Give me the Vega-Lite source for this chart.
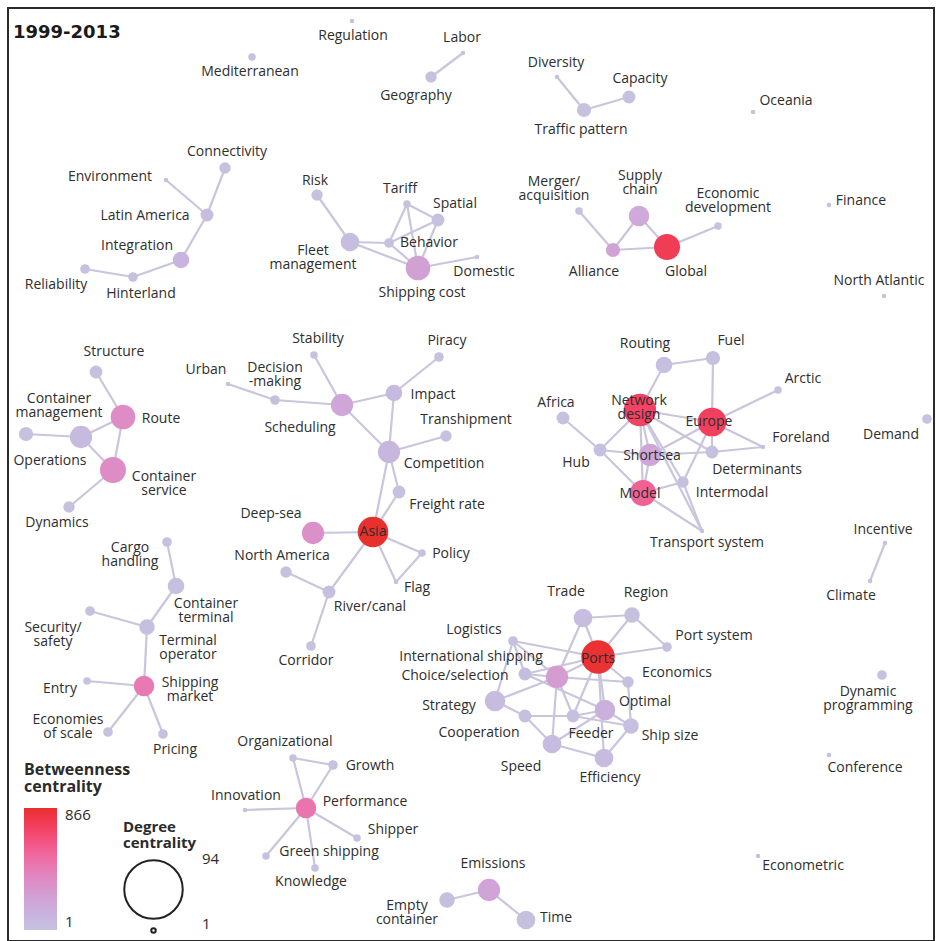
{
  "$schema": "https://vega.github.io/schema/vega-lite/v6.json",
  "width": 936,
  "height": 941,
  "autosize": {"type": "fit", "contains": "padding"},
  "padding": {"left": 8, "top": 8, "right": 2, "bottom": 0},
  "background": "white",
  "config": {
    "view": {"stroke": "#2b2b2b", "strokeWidth": 2},
    "legend": {"titleFont": "Open Sans", "labelFont": "Open Sans", "titleColor": "#2b2b2b", "labelColor": "#2b2b2b"}
  },
  "title": {"text": "1999-2013", "anchor": "start", "frame": "group", "orient": "top", "offset": -34, "dx": 5, "font": "DejaVu Sans", "fontSize": 18, "fontWeight": "bold", "color": "#1a1a1a"},
  "datasets": {
    "nodes": [
      {"id": "Mediterranean", "label": "Mediterranean", "x": 252, "y": 57, "deg": 2, "btw": 1, "lx": 250, "ly": 72},
      {"id": "Regulation", "label": "Regulation", "x": 352, "y": 21, "deg": 1, "btw": 1, "lx": 353, "ly": 36},
      {"id": "Labor", "label": "Labor", "x": 463, "y": 53, "deg": 1, "btw": 1, "lx": 462, "ly": 38},
      {"id": "Geography", "label": "Geography", "x": 431, "y": 77, "deg": 4, "btw": 5, "lx": 416, "ly": 96},
      {"id": "Diversity", "label": "Diversity", "x": 557, "y": 77, "deg": 1, "btw": 1, "lx": 556, "ly": 63},
      {"id": "Traffic pattern", "label": "Traffic pattern", "x": 584, "y": 110, "deg": 6, "btw": 5, "lx": 581, "ly": 130},
      {"id": "Capacity", "label": "Capacity", "x": 629, "y": 97, "deg": 5, "btw": 1, "lx": 640, "ly": 79},
      {"id": "Oceania", "label": "Oceania", "x": 753, "y": 112, "deg": 1, "btw": 1, "lx": 786, "ly": 101},
      {"id": "Connectivity", "label": "Connectivity", "x": 225, "y": 168, "deg": 4, "btw": 1, "lx": 227, "ly": 152},
      {"id": "Environment", "label": "Environment", "x": 166, "y": 180, "deg": 1, "btw": 1, "lx": 110, "ly": 177},
      {"id": "Latin America", "label": "Latin America", "x": 207, "y": 215, "deg": 5, "btw": 30, "lx": 145, "ly": 216},
      {"id": "Integration", "label": "Integration", "x": 181, "y": 260, "deg": 8, "btw": 100, "lx": 137, "ly": 246},
      {"id": "Hinterland", "label": "Hinterland", "x": 133, "y": 277, "deg": 3, "btw": 10, "lx": 141, "ly": 294},
      {"id": "Reliability", "label": "Reliability", "x": 85, "y": 269, "deg": 3, "btw": 1, "lx": 56, "ly": 285},
      {"id": "Risk", "label": "Risk", "x": 317, "y": 195, "deg": 4, "btw": 1, "lx": 315, "ly": 181},
      {"id": "Fleet management", "label": "Fleet\nmanagement", "x": 350, "y": 242, "deg": 10, "btw": 30, "lx": 313, "ly": 251},
      {"id": "Tariff", "label": "Tariff", "x": 407, "y": 204, "deg": 2, "btw": 1, "lx": 400, "ly": 189},
      {"id": "Spatial", "label": "Spatial", "x": 438, "y": 220, "deg": 5, "btw": 5, "lx": 455, "ly": 204},
      {"id": "Behavior", "label": "Behavior", "x": 389, "y": 243, "deg": 3, "btw": 5, "lx": 429, "ly": 243},
      {"id": "Shipping cost", "label": "Shipping cost", "x": 418, "y": 268, "deg": 17, "btw": 230, "lx": 422, "ly": 293},
      {"id": "Domestic", "label": "Domestic", "x": 477, "y": 257, "deg": 1, "btw": 1, "lx": 484, "ly": 272},
      {"id": "Merger/acquisition", "label": "Merger/\nacquisition", "x": 579, "y": 211, "deg": 2, "btw": 1, "lx": 554, "ly": 182},
      {"id": "Alliance", "label": "Alliance", "x": 613, "y": 250, "deg": 6, "btw": 220, "lx": 594, "ly": 272},
      {"id": "Supply chain", "label": "Supply\nchain", "x": 639, "y": 216, "deg": 12, "btw": 180, "lx": 640, "ly": 176},
      {"id": "Global", "label": "Global", "x": 667, "y": 247, "deg": 19, "btw": 760, "lx": 686, "ly": 272},
      {"id": "Economic development", "label": "Economic\ndevelopment", "x": 718, "y": 226, "deg": 2, "btw": 1, "lx": 728, "ly": 194},
      {"id": "Finance", "label": "Finance", "x": 829, "y": 205, "deg": 1, "btw": 1, "lx": 861, "ly": 201},
      {"id": "North Atlantic", "label": "North Atlantic", "x": 884, "y": 296, "deg": 1, "btw": 1, "lx": 879, "ly": 281},
      {"id": "Structure", "label": "Structure", "x": 96, "y": 372, "deg": 5, "btw": 1, "lx": 114, "ly": 352},
      {"id": "Route", "label": "Route", "x": 123, "y": 417, "deg": 17, "btw": 350, "lx": 161, "ly": 419},
      {"id": "Container management", "label": "Container\nmanagement", "x": 81, "y": 437, "deg": 14, "btw": 60, "lx": 59, "ly": 399},
      {"id": "Operations", "label": "Operations", "x": 26, "y": 434, "deg": 6, "btw": 1, "lx": 50, "ly": 461},
      {"id": "Container service", "label": "Container\nservice", "x": 113, "y": 470, "deg": 19, "btw": 350, "lx": 164, "ly": 477},
      {"id": "Dynamics", "label": "Dynamics", "x": 69, "y": 507, "deg": 4, "btw": 1, "lx": 57, "ly": 523},
      {"id": "Stability", "label": "Stability", "x": 314, "y": 355, "deg": 2, "btw": 1, "lx": 318, "ly": 339},
      {"id": "Urban", "label": "Urban", "x": 228, "y": 384, "deg": 1, "btw": 1, "lx": 206, "ly": 370},
      {"id": "Decision-making", "label": "Decision\n-making", "x": 275, "y": 400, "deg": 3, "btw": 10, "lx": 275, "ly": 368},
      {"id": "Scheduling", "label": "Scheduling", "x": 342, "y": 405, "deg": 14, "btw": 200, "lx": 300, "ly": 428},
      {"id": "Impact", "label": "Impact", "x": 394, "y": 393, "deg": 8, "btw": 60, "lx": 433, "ly": 395},
      {"id": "Piracy", "label": "Piracy", "x": 439, "y": 357, "deg": 3, "btw": 1, "lx": 447, "ly": 341},
      {"id": "Transhipment", "label": "Transhipment", "x": 446, "y": 436, "deg": 4, "btw": 1, "lx": 466, "ly": 420},
      {"id": "Competition", "label": "Competition", "x": 389, "y": 452, "deg": 14, "btw": 80, "lx": 444, "ly": 464},
      {"id": "Freight rate", "label": "Freight rate", "x": 399, "y": 492, "deg": 5, "btw": 5, "lx": 447, "ly": 505},
      {"id": "Asia", "label": "Asia", "x": 373, "y": 532, "deg": 26, "btw": 866, "lx": 373, "ly": 532},
      {"id": "Deep-sea", "label": "Deep-sea", "x": 313, "y": 533, "deg": 14, "btw": 330, "lx": 271, "ly": 514},
      {"id": "North America", "label": "North America", "x": 286, "y": 572, "deg": 4, "btw": 5, "lx": 282, "ly": 556},
      {"id": "Policy", "label": "Policy", "x": 422, "y": 553, "deg": 2, "btw": 1, "lx": 451, "ly": 554},
      {"id": "Flag", "label": "Flag", "x": 396, "y": 582, "deg": 1, "btw": 1, "lx": 417, "ly": 588},
      {"id": "River/canal", "label": "River/canal", "x": 329, "y": 592, "deg": 5, "btw": 20, "lx": 370, "ly": 607},
      {"id": "Corridor", "label": "Corridor", "x": 311, "y": 646, "deg": 3, "btw": 1, "lx": 306, "ly": 661},
      {"id": "Routing", "label": "Routing", "x": 664, "y": 365, "deg": 8, "btw": 20, "lx": 645, "ly": 344},
      {"id": "Fuel", "label": "Fuel", "x": 713, "y": 358, "deg": 6, "btw": 10, "lx": 731, "ly": 341},
      {"id": "Arctic", "label": "Arctic", "x": 778, "y": 390, "deg": 2, "btw": 1, "lx": 803, "ly": 379},
      {"id": "Africa", "label": "Africa", "x": 563, "y": 418, "deg": 5, "btw": 1, "lx": 556, "ly": 403},
      {"id": "Network design", "label": "Network\ndesign", "x": 640, "y": 410, "deg": 29, "btw": 720, "lx": 639, "ly": 401},
      {"id": "Europe", "label": "Europe", "x": 712, "y": 422, "deg": 23, "btw": 740, "lx": 709, "ly": 422},
      {"id": "Hub", "label": "Hub", "x": 600, "y": 450, "deg": 5, "btw": 20, "lx": 576, "ly": 463},
      {"id": "Shortsea", "label": "Shortsea", "x": 650, "y": 455, "deg": 14, "btw": 200, "lx": 652, "ly": 456},
      {"id": "Determinants", "label": "Determinants", "x": 712, "y": 452, "deg": 5, "btw": 10, "lx": 757, "ly": 470},
      {"id": "Foreland", "label": "Foreland", "x": 763, "y": 447, "deg": 1, "btw": 1, "lx": 801, "ly": 438},
      {"id": "Intermodal", "label": "Intermodal", "x": 683, "y": 482, "deg": 4, "btw": 10, "lx": 732, "ly": 493},
      {"id": "Model", "label": "Model", "x": 643, "y": 493, "deg": 19, "btw": 560, "lx": 640, "ly": 494},
      {"id": "Transport system", "label": "Transport system", "x": 702, "y": 531, "deg": 1, "btw": 1, "lx": 707, "ly": 543},
      {"id": "Demand", "label": "Demand", "x": 927, "y": 419, "deg": 3, "btw": 1, "lx": 891, "ly": 435},
      {"id": "Incentive", "label": "Incentive", "x": 885, "y": 543, "deg": 1, "btw": 1, "lx": 883, "ly": 530},
      {"id": "Climate", "label": "Climate", "x": 870, "y": 581, "deg": 1, "btw": 1, "lx": 851, "ly": 596},
      {"id": "Cargo handling", "label": "Cargo\nhandling", "x": 167, "y": 542, "deg": 3, "btw": 1, "lx": 130, "ly": 548},
      {"id": "Container terminal", "label": "Container\nterminal", "x": 176, "y": 586, "deg": 8, "btw": 20, "lx": 206, "ly": 604},
      {"id": "Security/safety", "label": "Security/\nsafety", "x": 90, "y": 611, "deg": 3, "btw": 1, "lx": 53, "ly": 628},
      {"id": "Terminal operator", "label": "Terminal\noperator", "x": 147, "y": 627, "deg": 7, "btw": 20, "lx": 188, "ly": 641},
      {"id": "Shipping market", "label": "Shipping\nmarket", "x": 144, "y": 686, "deg": 12, "btw": 450, "lx": 190, "ly": 683},
      {"id": "Entry", "label": "Entry", "x": 87, "y": 681, "deg": 2, "btw": 1, "lx": 60, "ly": 689},
      {"id": "Economies of scale", "label": "Economies\nof scale", "x": 108, "y": 732, "deg": 3, "btw": 1, "lx": 68, "ly": 720},
      {"id": "Pricing", "label": "Pricing", "x": 163, "y": 734, "deg": 3, "btw": 1, "lx": 175, "ly": 750},
      {"id": "Organizational", "label": "Organizational", "x": 293, "y": 758, "deg": 2, "btw": 1, "lx": 285, "ly": 742},
      {"id": "Growth", "label": "Growth", "x": 333, "y": 765, "deg": 3, "btw": 1, "lx": 370, "ly": 766},
      {"id": "Innovation", "label": "Innovation", "x": 245, "y": 810, "deg": 1, "btw": 1, "lx": 246, "ly": 796},
      {"id": "Performance", "label": "Performance", "x": 306, "y": 808, "deg": 12, "btw": 475, "lx": 365, "ly": 802},
      {"id": "Shipper", "label": "Shipper", "x": 357, "y": 838, "deg": 2, "btw": 1, "lx": 393, "ly": 830},
      {"id": "Green shipping", "label": "Green shipping", "x": 266, "y": 856, "deg": 2, "btw": 1, "lx": 329, "ly": 852},
      {"id": "Knowledge", "label": "Knowledge", "x": 315, "y": 868, "deg": 2, "btw": 1, "lx": 311, "ly": 882},
      {"id": "Emissions", "label": "Emissions", "x": 489, "y": 890, "deg": 14, "btw": 210, "lx": 493, "ly": 864},
      {"id": "Empty container", "label": "Empty\ncontainer", "x": 447, "y": 900, "deg": 7, "btw": 10, "lx": 407, "ly": 906},
      {"id": "Time", "label": "Time", "x": 526, "y": 920, "deg": 10, "btw": 10, "lx": 556, "ly": 918},
      {"id": "Trade", "label": "Trade", "x": 583, "y": 618, "deg": 10, "btw": 30, "lx": 566, "ly": 592},
      {"id": "Region", "label": "Region", "x": 632, "y": 615, "deg": 7, "btw": 10, "lx": 646, "ly": 593},
      {"id": "Port system", "label": "Port system", "x": 667, "y": 647, "deg": 3, "btw": 1, "lx": 714, "ly": 636},
      {"id": "Logistics", "label": "Logistics", "x": 513, "y": 641, "deg": 3, "btw": 10, "lx": 474, "ly": 630},
      {"id": "Ports", "label": "Ports", "x": 598, "y": 657, "deg": 31, "btw": 850, "lx": 598, "ly": 659},
      {"id": "International shipping", "label": "International shipping", "x": 557, "y": 677, "deg": 14, "btw": 260, "lx": 471, "ly": 657},
      {"id": "Choice/selection", "label": "Choice/selection", "x": 525, "y": 674, "deg": 5, "btw": 40, "lx": 455, "ly": 676},
      {"id": "Economics", "label": "Economics", "x": 628, "y": 682, "deg": 4, "btw": 10, "lx": 677, "ly": 673},
      {"id": "Strategy", "label": "Strategy", "x": 495, "y": 701, "deg": 12, "btw": 50, "lx": 449, "ly": 706},
      {"id": "Optimal", "label": "Optimal", "x": 605, "y": 710, "deg": 12, "btw": 130, "lx": 645, "ly": 702},
      {"id": "Cooperation", "label": "Cooperation", "x": 525, "y": 716, "deg": 5, "btw": 10, "lx": 479, "ly": 733},
      {"id": "Feeder", "label": "Feeder", "x": 573, "y": 716, "deg": 5, "btw": 10, "lx": 591, "ly": 734},
      {"id": "Ship size", "label": "Ship size", "x": 631, "y": 726, "deg": 7, "btw": 20, "lx": 670, "ly": 736},
      {"id": "Speed", "label": "Speed", "x": 552, "y": 744, "deg": 10, "btw": 40, "lx": 521, "ly": 767},
      {"id": "Efficiency", "label": "Efficiency", "x": 604, "y": 758, "deg": 10, "btw": 40, "lx": 610, "ly": 778},
      {"id": "Dynamic programming", "label": "Dynamic\nprogramming", "x": 882, "y": 675, "deg": 3, "btw": 1, "lx": 868, "ly": 692},
      {"id": "Conference", "label": "Conference", "x": 829, "y": 755, "deg": 1, "btw": 1, "lx": 865, "ly": 768},
      {"id": "Econometric", "label": "Econometric", "x": 758, "y": 856, "deg": 1, "btw": 1, "lx": 803, "ly": 866}
    ],
    "edges": [
      {"s": "Labor", "t": "Geography"},
      {"s": "Diversity", "t": "Traffic pattern"},
      {"s": "Traffic pattern", "t": "Capacity"},
      {"s": "Connectivity", "t": "Latin America"},
      {"s": "Environment", "t": "Latin America"},
      {"s": "Latin America", "t": "Integration"},
      {"s": "Integration", "t": "Hinterland"},
      {"s": "Hinterland", "t": "Reliability"},
      {"s": "Risk", "t": "Fleet management"},
      {"s": "Fleet management", "t": "Behavior"},
      {"s": "Fleet management", "t": "Shipping cost"},
      {"s": "Tariff", "t": "Behavior"},
      {"s": "Tariff", "t": "Spatial"},
      {"s": "Tariff", "t": "Shipping cost"},
      {"s": "Behavior", "t": "Spatial"},
      {"s": "Spatial", "t": "Shipping cost"},
      {"s": "Behavior", "t": "Shipping cost"},
      {"s": "Shipping cost", "t": "Domestic"},
      {"s": "Merger/acquisition", "t": "Alliance"},
      {"s": "Alliance", "t": "Supply chain"},
      {"s": "Alliance", "t": "Global"},
      {"s": "Supply chain", "t": "Global"},
      {"s": "Global", "t": "Economic development"},
      {"s": "Structure", "t": "Route"},
      {"s": "Route", "t": "Container management"},
      {"s": "Container management", "t": "Operations"},
      {"s": "Container management", "t": "Container service"},
      {"s": "Route", "t": "Container service"},
      {"s": "Container service", "t": "Dynamics"},
      {"s": "Stability", "t": "Scheduling"},
      {"s": "Urban", "t": "Decision-making"},
      {"s": "Decision-making", "t": "Scheduling"},
      {"s": "Scheduling", "t": "Impact"},
      {"s": "Scheduling", "t": "Competition"},
      {"s": "Impact", "t": "Piracy"},
      {"s": "Impact", "t": "Competition"},
      {"s": "Competition", "t": "Transhipment"},
      {"s": "Competition", "t": "Freight rate"},
      {"s": "Competition", "t": "Asia"},
      {"s": "Freight rate", "t": "Asia"},
      {"s": "Asia", "t": "Deep-sea"},
      {"s": "Asia", "t": "Policy"},
      {"s": "Asia", "t": "Flag"},
      {"s": "Policy", "t": "Flag"},
      {"s": "Asia", "t": "River/canal"},
      {"s": "River/canal", "t": "North America"},
      {"s": "River/canal", "t": "Corridor"},
      {"s": "Routing", "t": "Fuel"},
      {"s": "Routing", "t": "Network design"},
      {"s": "Fuel", "t": "Europe"},
      {"s": "Europe", "t": "Arctic"},
      {"s": "Africa", "t": "Hub"},
      {"s": "Hub", "t": "Network design"},
      {"s": "Hub", "t": "Shortsea"},
      {"s": "Shortsea", "t": "Determinants"},
      {"s": "Hub", "t": "Model"},
      {"s": "Network design", "t": "Europe"},
      {"s": "Network design", "t": "Shortsea"},
      {"s": "Network design", "t": "Model"},
      {"s": "Network design", "t": "Intermodal"},
      {"s": "Network design", "t": "Determinants"},
      {"s": "Network design", "t": "Transport system"},
      {"s": "Europe", "t": "Shortsea"},
      {"s": "Europe", "t": "Intermodal"},
      {"s": "Europe", "t": "Determinants"},
      {"s": "Europe", "t": "Foreland"},
      {"s": "Determinants", "t": "Foreland"},
      {"s": "Model", "t": "Intermodal"},
      {"s": "Model", "t": "Transport system"},
      {"s": "Intermodal", "t": "Transport system"},
      {"s": "Shortsea", "t": "Model"},
      {"s": "Incentive", "t": "Climate"},
      {"s": "Cargo handling", "t": "Container terminal"},
      {"s": "Container terminal", "t": "Terminal operator"},
      {"s": "Security/safety", "t": "Terminal operator"},
      {"s": "Terminal operator", "t": "Shipping market"},
      {"s": "Entry", "t": "Shipping market"},
      {"s": "Economies of scale", "t": "Shipping market"},
      {"s": "Pricing", "t": "Shipping market"},
      {"s": "Organizational", "t": "Growth"},
      {"s": "Organizational", "t": "Performance"},
      {"s": "Growth", "t": "Performance"},
      {"s": "Innovation", "t": "Performance"},
      {"s": "Shipper", "t": "Performance"},
      {"s": "Green shipping", "t": "Performance"},
      {"s": "Knowledge", "t": "Performance"},
      {"s": "Empty container", "t": "Emissions"},
      {"s": "Emissions", "t": "Time"},
      {"s": "Trade", "t": "Region"},
      {"s": "Trade", "t": "Ports"},
      {"s": "Trade", "t": "International shipping"},
      {"s": "Region", "t": "Ports"},
      {"s": "Region", "t": "Port system"},
      {"s": "Ports", "t": "Port system"},
      {"s": "Logistics", "t": "Ports"},
      {"s": "Logistics", "t": "Strategy"},
      {"s": "Logistics", "t": "International shipping"},
      {"s": "Logistics", "t": "Choice/selection"},
      {"s": "Choice/selection", "t": "International shipping"},
      {"s": "Choice/selection", "t": "Ports"},
      {"s": "International shipping", "t": "Ports"},
      {"s": "Strategy", "t": "International shipping"},
      {"s": "Strategy", "t": "Cooperation"},
      {"s": "Cooperation", "t": "Speed"},
      {"s": "Cooperation", "t": "Feeder"},
      {"s": "Choice/selection", "t": "Optimal"},
      {"s": "International shipping", "t": "Speed"},
      {"s": "International shipping", "t": "Feeder"},
      {"s": "International shipping", "t": "Economics"},
      {"s": "Ports", "t": "Feeder"},
      {"s": "Ports", "t": "Optimal"},
      {"s": "Ports", "t": "Efficiency"},
      {"s": "Ports", "t": "Economics"},
      {"s": "Economics", "t": "Ship size"},
      {"s": "Optimal", "t": "Ship size"},
      {"s": "Optimal", "t": "Feeder"},
      {"s": "Feeder", "t": "Ship size"},
      {"s": "Speed", "t": "Efficiency"},
      {"s": "Speed", "t": "Optimal"},
      {"s": "Efficiency", "t": "Ship size"}
    ]
  },
  "layer": [
    {
      "data": {"name": "edges"},
      "transform": [
        {"lookup": "s", "from": {"data": {"name": "nodes"}, "key": "id", "fields": ["x", "y"]}, "as": ["sx", "sy"]},
        {"lookup": "t", "from": {"data": {"name": "nodes"}, "key": "id", "fields": ["x", "y"]}, "as": ["tx", "ty"]}
      ],
      "mark": {"type": "rule", "color": "#c9c5dd", "strokeWidth": 2.2},
      "encoding": {
        "x": {"field": "sx", "type": "quantitative", "scale": {"domain": [8, 934], "nice": false, "zero": false}, "axis": null},
        "y": {"field": "sy", "type": "quantitative", "scale": {"domain": [8, 941], "reverse": true, "nice": false, "zero": false}, "axis": null},
        "x2": {"field": "tx"},
        "y2": {"field": "ty"}
      }
    },
    {
      "data": {"name": "nodes"},
      "mark": {"type": "circle", "opacity": 1},
      "encoding": {
        "x": {"field": "x", "type": "quantitative", "scale": {"domain": [8, 934], "nice": false, "zero": false}, "axis": null},
        "y": {"field": "y", "type": "quantitative", "scale": {"domain": [8, 941], "reverse": true, "nice": false, "zero": false}, "axis": null},
        "size": {
          "field": "deg", "type": "quantitative",
          "scale": {"type": "linear", "domain": [1, 94], "range": [20, 3420], "zero": false},
          "legend": {
            "orient": "none", "legendX": 115, "legendY": 812, "direction": "vertical",
            "title": ["Degree", "centrality"], "titleFontSize": 15, "titleFontWeight": "bold", "titleLineHeight": 16, "titlePadding": 8,
            "values": [94, 1], "labelFontSize": 15, "labelOffset": 18, "symbolType": "circle", "rowPadding": -25,
            "symbolFillColor": "transparent", "symbolStrokeColor": "#222222", "symbolStrokeWidth": 2, "symbolOpacity": 1,
            "encode": {"labels": {"update": {"dy": {"signal": "datum.value > 50 ? -31 : -7"}}}}
          }
        },
        "color": {
          "field": "btw", "type": "quantitative",
          "scale": {"domain": [1, 250, 866], "range": ["#c6c1df", "#d49ed2", "#e8302c"]},
          "legend": {
            "orient": "none", "legendX": 16, "legendY": 754, "direction": "vertical",
            "title": ["Betweenness", "centrality"], "titleFontSize": 16, "titleFontWeight": "bold", "titleLineHeight": 17, "titlePadding": 13,
            "values": [1, 866], "labelFontSize": 15, "labelOffset": 8, "gradientLength": 122, "gradientThickness": 33, "gradientStrokeWidth": 0
          }
        }
      }
    },
    {
      "data": {"name": "nodes"},
      "mark": {"type": "text", "font": "Open Sans", "fontSize": 14, "lineBreak": "\n", "lineHeight": 14, "align": "center", "baseline": "middle", "color": "#2e2e2e"},
      "encoding": {
        "x": {"field": "lx", "type": "quantitative", "scale": {"domain": [8, 934], "nice": false, "zero": false}, "axis": null},
        "y": {"field": "ly", "type": "quantitative", "scale": {"domain": [8, 941], "reverse": true, "nice": false, "zero": false}, "axis": null},
        "text": {"field": "label"},
        "fontWeight": {"condition": {"test": "datum.btw >= 540", "value": "bold"}, "value": "normal"}
      }
    }
  ]
}
